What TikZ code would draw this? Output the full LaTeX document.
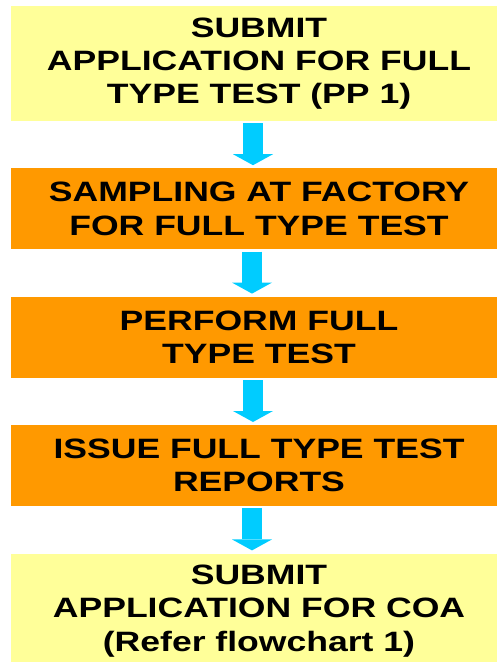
\documentclass[tikz,border=0pt]{standalone}
\usepackage{fontspec}
\newfontfamily\chartfont{Liberation Sans}[FakeStretch=1.27]
\definecolor{stageyellow}{HTML}{FFFF99}
\definecolor{stageorange}{HTML}{FF9900}
\definecolor{flowcyan}{HTML}{00CCFF}
\usetikzlibrary{positioning}
\usetikzlibrary{arrows.meta}
\tikzset{
  stage/.style={fill=#1, minimum width=496pt, inner sep=0pt, align=center,
    font=\chartfont\bfseries\fontsize{28}{33.3}\selectfont},
  flow/.style={flowcyan, line width=20pt, shorten <=2pt, shorten >=3pt,
    -{Triangle[width=40pt,length=11pt,line width=0pt]}}
}

\begin{document}
\begin{tikzpicture}[x=1pt,y=1pt]
  \useasboundingbox (0,0) rectangle (496,-662);

  \node [stage=stageyellow, minimum height=115pt] (apply) at (259,-63.5)
    {SUBMIT\\ APPLICATION FOR FULL\\ TYPE TEST (PP 1)};
  \node [stage=stageorange, minimum height=81pt, below=47pt of apply] (sample)
    {SAMPLING AT FACTORY\\ FOR FULL TYPE TEST};
  \node [stage=stageorange, minimum height=81pt, below=47pt of sample] (perform)
    {PERFORM FULL\\ TYPE TEST};
  \node [stage=stageorange, minimum height=81pt, below=47pt of perform] (issue)
    {ISSUE FULL TYPE TEST\\ REPORTS};
  \node [stage=stageyellow, minimum height=115pt, below=47pt of issue] (coa)
    {SUBMIT\\ APPLICATION FOR COA\\ (Refer flowchart 1)};

  % arrows sit a bit left of the box centres
  \draw [flow] ([xshift=-6pt]apply.south) -- ([xshift=-6pt]sample.north);
  \draw [flow] ([xshift=-7pt]sample.south) -- ([xshift=-7pt]perform.north);
  \draw [flow] ([xshift=-6pt]perform.south) -- ([xshift=-6pt]issue.north);
  \draw [flow] ([xshift=-7pt]issue.south) -- ([xshift=-7pt]coa.north);
\end{tikzpicture}
\end{document}
